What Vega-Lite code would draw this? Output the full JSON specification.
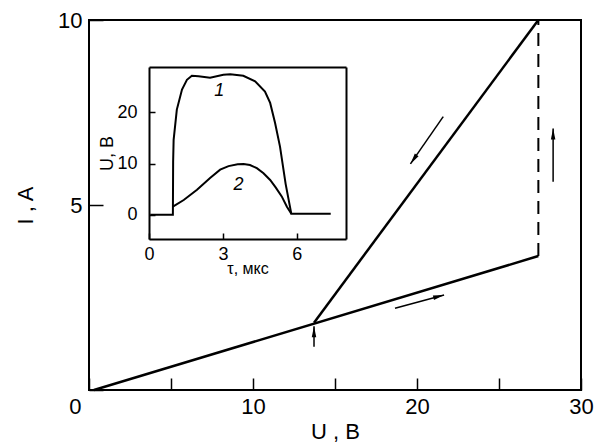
{
  "$schema": "https://vega.github.io/schema/vega-lite/v6.json",
  "width": 492,
  "height": 370,
  "autosize": "none",
  "padding": {"left": 89, "top": 20, "right": 19, "bottom": 58},
  "background": "white",
  "config": {
    "view": {"stroke": "black", "strokeWidth": 2},
    "font": "Liberation Sans",
    "axis": {"grid": false, "labelColor": "black", "titleColor": "black", "tickColor": "black", "domainColor": "black", "labelFont": "Liberation Sans", "titleFont": "Liberation Sans", "titleFontWeight": "normal", "labelFlush": false, "labelOverlap": false}
  },
  "datasets": {
    "main": [
      {"seg": "lower", "ord": 1, "U": 0.3, "I": 0},
      {"seg": "lower", "ord": 2, "U": 27.4, "I": 3.62},
      {"seg": "upper", "ord": 1, "U": 27.4, "I": 10},
      {"seg": "upper", "ord": 2, "U": 13.72, "I": 1.82},
      {"seg": "jump", "ord": 1, "U": 27.4, "I": 3.62},
      {"seg": "jump", "ord": 2, "U": 27.4, "I": 10}
    ],
    "arrows": [
      {"U": 21.6, "I": 7.39, "U2": 19.6, "I2": 6.11, "dir": 214.6},
      {"U": 18.66, "I": 2.21, "U2": 21.65, "I2": 2.57, "dir": 74.8},
      {"U": 28.3, "I": 5.63, "U2": 28.3, "I2": 7.07, "dir": 0},
      {"U": 13.72, "I": 1.17, "U2": 13.72, "I2": 1.72, "dir": 0}
    ],
    "pulse": [
      {"curve": "1", "ord": 1, "t": 0.05, "u": 0},
      {"curve": "1", "ord": 2, "t": 0.97, "u": 0},
      {"curve": "1", "ord": 3, "t": 0.98, "u": 10.3},
      {"curve": "1", "ord": 4, "t": 1.0, "u": 14.6},
      {"curve": "1", "ord": 5, "t": 1.13, "u": 20.5},
      {"curve": "1", "ord": 6, "t": 1.34, "u": 24.4},
      {"curve": "1", "ord": 7, "t": 1.54, "u": 26.3},
      {"curve": "1", "ord": 8, "t": 1.74, "u": 27.1},
      {"curve": "1", "ord": 9, "t": 2.01, "u": 27.0},
      {"curve": "1", "ord": 10, "t": 2.48, "u": 26.7},
      {"curve": "1", "ord": 11, "t": 3.02, "u": 27.3},
      {"curve": "1", "ord": 12, "t": 3.3, "u": 27.4},
      {"curve": "1", "ord": 13, "t": 3.83, "u": 27.1},
      {"curve": "1", "ord": 14, "t": 4.31, "u": 26.0},
      {"curve": "1", "ord": 15, "t": 4.71, "u": 24.0},
      {"curve": "1", "ord": 16, "t": 4.92, "u": 21.8},
      {"curve": "1", "ord": 17, "t": 5.12, "u": 17.9},
      {"curve": "1", "ord": 18, "t": 5.32, "u": 13.3},
      {"curve": "1", "ord": 19, "t": 5.55, "u": 6.0},
      {"curve": "1", "ord": 20, "t": 5.78, "u": 0.2},
      {"curve": "1", "ord": 21, "t": 7.38, "u": 0.2},
      {"curve": "2", "ord": 1, "t": 0.97, "u": 1.6},
      {"curve": "2", "ord": 2, "t": 1.41, "u": 2.9},
      {"curve": "2", "ord": 3, "t": 1.95, "u": 4.9},
      {"curve": "2", "ord": 4, "t": 2.48, "u": 7.2},
      {"curve": "2", "ord": 5, "t": 2.89, "u": 8.8},
      {"curve": "2", "ord": 6, "t": 3.23, "u": 9.5},
      {"curve": "2", "ord": 7, "t": 3.6, "u": 9.85},
      {"curve": "2", "ord": 8, "t": 3.84, "u": 9.9},
      {"curve": "2", "ord": 9, "t": 4.1, "u": 9.7},
      {"curve": "2", "ord": 10, "t": 4.38, "u": 9.1},
      {"curve": "2", "ord": 11, "t": 4.65, "u": 8.1},
      {"curve": "2", "ord": 12, "t": 4.92, "u": 6.8},
      {"curve": "2", "ord": 13, "t": 5.15, "u": 5.3},
      {"curve": "2", "ord": 14, "t": 5.39, "u": 3.6},
      {"curve": "2", "ord": 15, "t": 5.6, "u": 1.6},
      {"curve": "2", "ord": 16, "t": 5.78, "u": 0.2}
    ],
    "tags": [
      {"t": 2.85, "u": 24.1, "label": "1"},
      {"t": 3.63, "u": 5.8, "label": "2"}
    ]
  },
  "layer": [
    {
      "layer": [
        {
          "data": {"name": "main"},
          "transform": [{"filter": "datum.seg !== 'jump'"}],
          "mark": {"type": "line", "color": "black", "strokeWidth": 2.5},
          "encoding": {
            "x": {"field": "U", "type": "quantitative",
              "scale": {"domain": [0, 30], "nice": false, "zero": false},
              "axis": {"title": "U , B", "orient": "bottom", "values": [0, 5, 10, 15, 20, 25, 30],
                "labelExpr": "datum.value % 10 === 0 ? datum.label : ''",
                "tickSize": -12, "tickWidth": 1.5, "domain": false,
                "labelFontSize": 22, "labelPadding": 18, "titleFontSize": 22, "titlePadding": 4,
                "labelAlign": {"condition": {"test": "datum.value === 0", "value": "right"}, "value": "center"},
                "labelOffset": {"condition": {"test": "datum.value === 0", "value": -8}, "value": 0}}},
            "y": {"field": "I", "type": "quantitative",
              "scale": {"domain": [0, 10], "nice": false, "zero": false},
              "axis": {"title": "I , A", "orient": "left", "values": [0, 5, 10],
                "labelExpr": "datum.value === 0 ? '' : datum.label",
                "tickSize": -14, "tickWidth": 1.5, "domain": false,
                "labelFontSize": 22, "labelPadding": 21, "titleFontSize": 22, "titlePadding": 20}},
            "detail": {"field": "seg"},
            "order": {"field": "ord"}
          }
        },
        {
          "data": {"name": "main"},
          "transform": [{"filter": "datum.seg === 'jump'"}],
          "mark": {"type": "line", "color": "black", "strokeWidth": 2, "strokeDash": [13, 8]},
          "encoding": {
            "x": {"field": "U", "type": "quantitative"},
            "y": {"field": "I", "type": "quantitative"},
            "order": {"field": "ord"}
          }
        },
        {
          "data": {"name": "arrows"},
          "mark": {"type": "rule", "color": "black", "strokeWidth": 1.5},
          "encoding": {
            "x": {"field": "U", "type": "quantitative"},
            "y": {"field": "I", "type": "quantitative"},
            "x2": {"field": "U2"},
            "y2": {"field": "I2"}
          }
        },
        {
          "data": {"name": "arrows"},
          "mark": {"type": "point", "shape": "M0,0L-0.45,2.2L0.45,2.2Z", "filled": true, "color": "black", "opacity": 1, "size": 100, "strokeWidth": 0},
          "encoding": {
            "x": {"field": "U2", "type": "quantitative"},
            "y": {"field": "I2", "type": "quantitative"},
            "angle": {"field": "dir", "type": "quantitative", "scale": null}
          }
        }
      ]
    },
    {
      "layer": [
        {
          "data": {"name": "pulse"},
          "mark": {"type": "line", "color": "black", "strokeWidth": 2},
          "encoding": {
            "x": {"field": "t", "type": "quantitative",
              "scale": {"domain": [0, 8], "range": [60, 257], "nice": false, "zero": false},
              "axis": {"title": "τ, мкс", "orient": "bottom", "offset": -151, "values": [0, 3, 6],
                "tickSize": -6, "tickWidth": 1.5, "domain": true, "domainWidth": 2,
                "labelFontSize": 18, "labelPadding": 12, "titleFontSize": 16, "titlePadding": -3}},
            "y": {"field": "u", "type": "quantitative",
              "scale": {"domain": [-4.7, 28.8], "range": [219, 47], "nice": false, "zero": false},
              "axis": {"title": "U, B", "orient": "left", "offset": -60, "values": [0, 10, 20],
                "tickSize": -6, "tickWidth": 1.5, "domain": true, "domainWidth": 2,
                "labelFontSize": 18, "labelPadding": 18, "titleFontSize": 18, "titlePadding": 0}},
            "detail": {"field": "curve"},
            "order": {"field": "ord"}
          }
        },
        {
          "data": {"name": "tags"},
          "mark": {"type": "text", "fontSize": 18, "fontStyle": "italic", "color": "black"},
          "encoding": {
            "x": {"field": "t", "type": "quantitative",
              "axis": {"title": null, "orient": "top", "offset": -47, "labels": false, "ticks": false, "domain": true, "domainWidth": 2}},
            "y": {"field": "u", "type": "quantitative",
              "axis": {"title": null, "orient": "right", "offset": -235, "labels": false, "ticks": false, "domain": true, "domainWidth": 2}},
            "text": {"field": "label"}
          }
        }
      ],
      "resolve": {"axis": {"x": "independent", "y": "independent"}}
    }
  ],
  "resolve": {"scale": {"x": "independent", "y": "independent"}}
}
